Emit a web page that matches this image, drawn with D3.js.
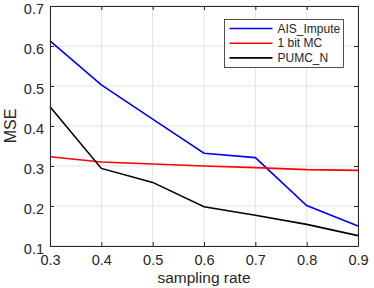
<!DOCTYPE html>
<html>
<head>
<meta charset="utf-8">
<script src="https://d3js.org/d3.v7.min.js"></script>
<style>
  body { margin: 0; background: #fff; }
  text { font-family: "Liberation Sans", Arial, sans-serif; fill: #262626; }
</style>
</head>
<body>
<div class="chart"></div>
<script>
const rates = [0.3, 0.4, 0.5, 0.6, 0.7, 0.8, 0.9];
const aisImpute = [0.613, 0.503, 0.417, 0.332, 0.321, 0.201, 0.150];
const oneBitMC = [0.323, 0.310, 0.305, 0.300, 0.296, 0.291, 0.289];
const pumcN = [0.448, 0.294, 0.259, 0.198, 0.177, 0.154, 0.126];
const xTicks = [0.3, 0.4, 0.5, 0.6, 0.7, 0.8, 0.9];
const yTicks = [0.1, 0.2, 0.3, 0.4, 0.5, 0.6, 0.7];

const series = [
    { name: "AIS_Impute", values: aisImpute, color: "#0000ff" },
    { name: "1 bit MC", values: oneBitMC, color: "#ff0000" },
    { name: "PUMC_N", values: pumcN, color: "#000000" }
];

const width = 374, height = 288;
const margin = { left: 50, right: 16, top: 6, bottom: 42 };

const svg = d3.select(".chart").append("svg")
    .attr("width", width)
    .attr("height", height);

const x = d3.scaleLinear().domain([0.3, 0.9]).range([margin.left, width - margin.right]);
const y = d3.scaleLinear().domain([0.1, 0.7]).range([height - margin.bottom, margin.top]);

// grid
const grid = svg.append("g").attr("class", "grid");
grid.selectAll(".gx").data(xTicks).enter().append("line")
    .attr("x1", d => x(d)).attr("x2", d => x(d))
    .attr("y1", y(0.1)).attr("y2", y(0.7))
    .attr("stroke", "#e3e3e3").attr("stroke-width", 1);
grid.selectAll(".gy").data(yTicks).enter().append("line")
    .attr("y1", d => y(d)).attr("y2", d => y(d))
    .attr("x1", x(0.3)).attr("x2", x(0.9))
    .attr("stroke", "#e3e3e3").attr("stroke-width", 1);

// lines
const line = d3.line()
    .x((d, i) => x(rates[i]))
    .y(d => y(d));

svg.append("g").selectAll("path").data(series).enter().append("path")
    .attr("d", d => line(d.values))
    .attr("fill", "none")
    .attr("stroke", d => d.color)
    .attr("stroke-width", 1.6);

// axes (box with inward ticks)
const fmt = d3.format(".1f");
const axisColor = "#262626";
function styleAxis(g) {
    g.select(".domain").attr("stroke", axisColor);
    g.selectAll(".tick line").attr("stroke", axisColor);
    g.selectAll(".tick text").style("font-size", "14.5px").attr("fill", axisColor);
}

svg.append("g")
    .attr("transform", `translate(0,${y(0.1)})`)
    .call(d3.axisBottom(x).tickValues(xTicks).tickFormat(fmt).tickSizeInner(-4).tickSizeOuter(0).tickPadding(9))
    .call(styleAxis);
svg.append("g")
    .attr("transform", `translate(0,${y(0.7)})`)
    .call(d3.axisTop(x).tickValues(xTicks).tickFormat("").tickSizeInner(-4).tickSizeOuter(0))
    .call(styleAxis);
svg.append("g")
    .attr("transform", `translate(${x(0.3)},0)`)
    .call(d3.axisLeft(y).tickValues(yTicks).tickFormat(fmt).tickSizeInner(-4).tickSizeOuter(0).tickPadding(6))
    .call(styleAxis)
    .call(g => g.selectAll(".tick text").attr("dy", "0.5em"));
svg.append("g")
    .attr("transform", `translate(${x(0.9)},0)`)
    .call(d3.axisRight(y).tickValues(yTicks).tickFormat("").tickSizeInner(-4).tickSizeOuter(0))
    .call(styleAxis);

// axis labels
svg.append("text")
    .attr("x", (x(0.3) + x(0.9)) / 2)
    .attr("y", 283)
    .attr("text-anchor", "middle")
    .style("font-size", "15.5px")
    .text("sampling rate");
svg.append("text")
    .attr("transform", `translate(16,${(y(0.1) + y(0.7)) / 2}) rotate(-90)`)
    .attr("text-anchor", "middle")
    .style("font-size", "16px")
    .text("MSE");

// legend
const legend = svg.append("g").attr("transform", "translate(224.5,19.5)");
legend.append("rect")
    .attr("width", 119).attr("height", 48)
    .attr("fill", "#fff").attr("stroke", axisColor).attr("stroke-width", 0.8);
const item = legend.selectAll(".item").data(series).enter().append("g")
    .attr("transform", (d, i) => `translate(0,${9 + i * 14.7})`);
item.append("line")
    .attr("x1", 5).attr("x2", 48)
    .attr("stroke", d => d.color).attr("stroke-width", 1.6);
item.append("text")
    .attr("x", 53).attr("dy", "0.35em")
    .style("font-size", "12px")
    .text(d => d.name);
</script>
</body>
</html>
